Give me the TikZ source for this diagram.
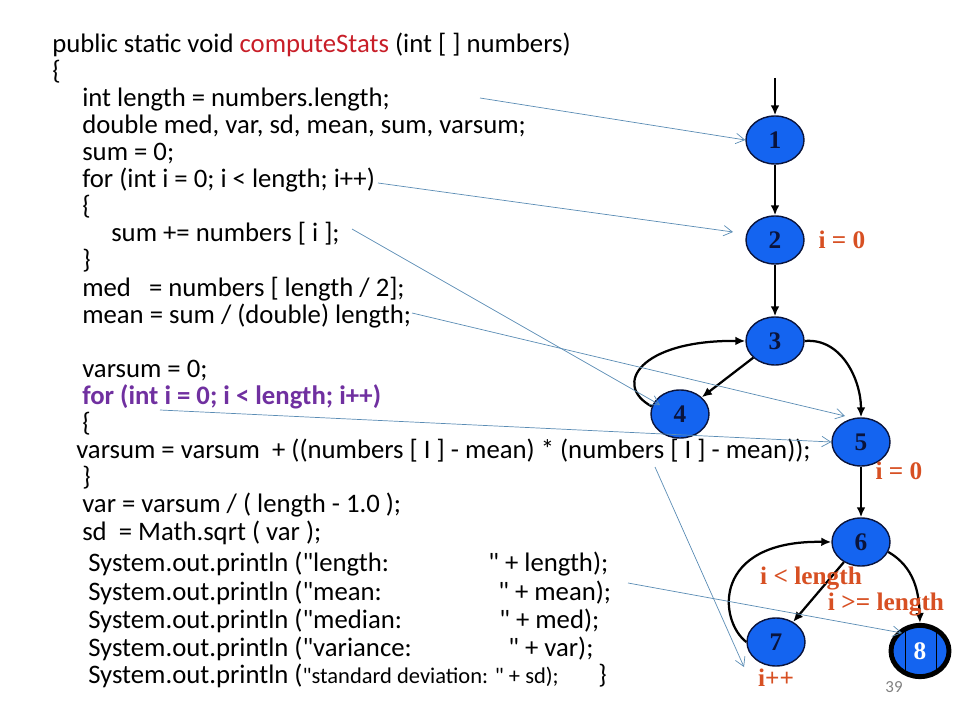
\documentclass[tikz,border=0pt]{standalone}
\usepackage{fontspec}
\setmainfont{Carlito}[Ligatures=TeXOff]
\newfontfamily\timesfont{Liberation Serif}
\usepackage{xcolor}
\usetikzlibrary{arrows.meta,positioning,shapes.geometric}
\definecolor{Cblue}{RGB}{20,100,240}
\definecolor{Cnavy}{RGB}{10,20,60}
\definecolor{Corange}{RGB}{215,80,35}
\definecolor{Cred}{RGB}{200,30,40}
\definecolor{Cpurple}{RGB}{112,48,160}
\definecolor{Cpointer}{RGB}{90,140,180}
\tikzset{
  codeline/.style={anchor=base west, inner sep=0pt, font=\fontsize{19}{22}\selectfont},
  vertex/.style={ellipse, draw=Cnavy, line width=1pt, fill=Cblue, minimum width=1.45cm, minimum height=1.2cm, inner sep=0pt, text=Cnavy, font=\timesfont\bfseries\fontsize{18}{18}\selectfont},
  flow/.style={-{Latex[length=2.5mm,width=2.2mm]}, line width=1.6pt, draw=black},
  pointer/.style={-{Straight Barb[length=2.2mm,width=2.6mm]}, line width=0.5pt, draw=Cpointer},
  cond/.style={text=Corange, inner sep=0pt, font=\timesfont\bfseries\fontsize{18}{18}\selectfont}
}
\begin{document}
\begin{tikzpicture}[x=0.025cm,y=-0.025cm]
  \useasboundingbox (0,0) rectangle (960,720);

  % source code
  \node[codeline] (c1) at (52,53) {public static void \textcolor{Cred}{computeStats} (int [ ] numbers)};
  \node[codeline] (c2) at (52,80) {\{};
  \node[codeline] (c3) at (82,107) {int length = numbers.length;};
  \node[codeline] (c4) at (82,134) {double med, var, sd, mean, sum, varsum;};
  \node[codeline] (c5) at (82,161) {sum = 0;};
  \node[codeline] (c6) at (82,188) {for (int i = 0; i < length; i++)};
  \node[codeline] (c7) at (82,215) {\{};
  \node[codeline] (c8) at (111,242) {sum += numbers [ i ];};
  \node[codeline] (c9) at (82,269) {\}};
  \node[codeline] (c10) at (82,297) {med\ \ \ = numbers [ length / 2];};
  \node[codeline] (c11) at (82,324) {mean = sum / (double) length;};
  \node[codeline] (c13) at (82,378) {varsum = 0;};
  \node[codeline, text=Cpurple, font=\fontsize{19}{22}\selectfont\bfseries] (c14) at (82,405) {for (int i = 0; i < length; i++)};
  \node[codeline] (c15) at (82,432) {\{};
  \node[codeline] (c16) at (76,459) {varsum = varsum\ \ + ((numbers [ I ] - mean) * (numbers [ I ] - mean));};
  \node[codeline] (c17) at (82,486) {\}};
  \node[codeline] (c18) at (82,513) {var = varsum / ( length - 1.0 );};
  \node[codeline] (c19) at (82,540) {sd\ \ = Math.sqrt ( var );};
  \node[codeline] (p1) at (88,572) {System.out.println ("length:};
  \node[codeline] (p1t) at (488,572) {" + length);};
  \node[codeline] (p2) at (88,600) {System.out.println ("mean:};
  \node[codeline] (p2t) at (498,600) {" + mean);};
  \node[codeline] (p3) at (88,628) {System.out.println ("median:};
  \node[codeline] (p3t) at (499,628) {" + med);};
  \node[codeline] (p4) at (88,656) {System.out.println ("variance:};
  \node[codeline] (p4t) at (508,656) {" + var);};
  \node[codeline] (p5) at (88,683) {System.out.println ({\fontsize{16}{18}\selectfont"standard deviation: " + sd);}};
  \node[codeline] (p5t) at (598,683) {\}};

  % flow graph
  \coordinate (entry) at (775,78);
  \node[vertex] (n1) at (775,140) {1};
  \node[vertex] (n2) at (775,240) {2};
  \node[vertex] (n3) at (775,341) {3};
  \node[vertex] (n4) at (680,414) {4};
  \node[vertex] (n5) at (861,442) {5};
  \node[vertex] (n6) at (861,542) {6};
  \node[vertex] (n7) at (776,642) {7};
  \node[vertex, line width=3.5pt, draw=black, minimum width=1.45cm, minimum height=1.28cm, text=white] (n8) at (920,651) {8};
  \draw[black, line width=0.6pt] (905,631) -- (905,672) (936,631) -- (936,672);

  \draw[flow] (entry) -- (n1);
  \draw[flow] (n1) -- (n2);
  \draw[flow] (n2) -- (n3);
  \draw[flow] (n3) -- (n4);
  \draw[flow] (n4.165) .. controls (612,385) and (640,340) .. (n3.west);
  \draw[flow] (n3.east) to[out=5,in=90] (n5.north);
  \draw[flow] (n5) -- (n6);
  \draw[flow] (n6) -- (n7);
  \draw[flow] (n7.west) .. controls (718,620) and (712,540) .. (n6.west);
  \draw[flow] (n6.-20) to[out=-30,in=92] (n8.north);

  % conditions
  \node[cond] (q2) at (842,240) {i = 0};
  \node[cond] (q5) at (899,471) {i = 0};
  \node[cond] (qlt) at (811,579) {i < length};
  \node[cond] (qge) at (886,605) {i >= length};
  \node[cond] (qinc) at (776,678) {i++};

  % statement pointers
  \coordinate (s1) at (480,98);
  \coordinate (s2) at (378,183);
  \coordinate (s4) at (352,229);
  \coordinate (s5) at (412,313);
  \coordinate (s6) at (160,410);
  \coordinate (s7) at (655,467);
  \coordinate (s8) at (628,583);
  \draw[pointer] (s1) -- (n1.west);
  \draw[pointer] (s2) -- (733,232);
  \draw[pointer] (s4) -- (660,405);
  \draw[pointer] (s5) -- (845,416);
  \draw[pointer] (s6) -- (n5.west);
  \draw[pointer] (s7) -- (744,667);
  \draw[pointer] (s8) -- (902,633);

  \node[text=gray, font=\fontsize{12}{14}\selectfont] (pg) at (894,687) {39};
\end{tikzpicture}
\end{document}
